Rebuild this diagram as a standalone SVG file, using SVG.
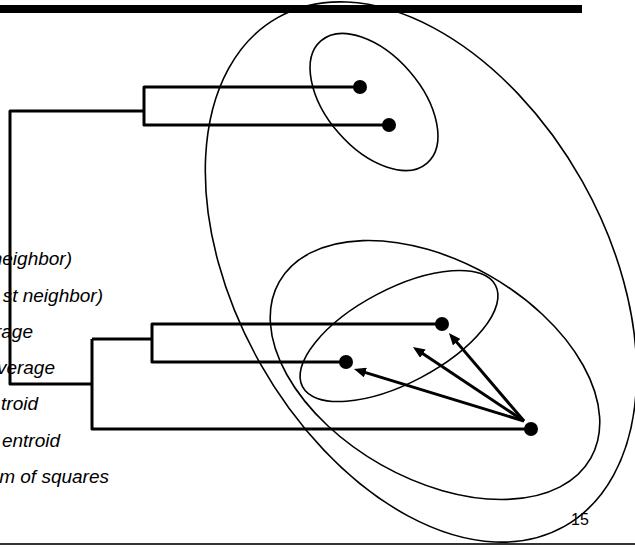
<svg xmlns="http://www.w3.org/2000/svg" width="635" height="547" viewBox="0 0 635 547">
  <style>
    .rule { fill: #000; }
    .cluster { fill: none; stroke: #000; stroke-width: 1.6; }
    .branch { fill: none; stroke: #000; stroke-width: 3; stroke-linejoin: round; stroke-linecap: butt; }
    .arrow { fill: none; stroke: #000; stroke-width: 3; marker-end: url(#head); }
    .dot { fill: #000; }
    .label { font-family: "Liberation Sans", Arial, sans-serif; font-style: italic; font-size: 19px; fill: #000; text-anchor: end; }
    .page { font-family: "Liberation Sans", Arial, sans-serif; font-size: 16px; fill: #000; }
  </style>
  <defs>
    <marker id="head" viewBox="0 0 12 10" markerWidth="12" markerHeight="10" refX="4" refY="5" orient="auto" markerUnits="userSpaceOnUse">
      <path d="M0,0 L12,5 L0,10 z" fill="#000"/>
    </marker>
  </defs>

  <rect width="635" height="547" fill="#fff"/>

  <!-- page rules -->
  <rect class="rule" x="0" y="5" width="582" height="8"/>
  <rect x="0" y="543" width="635" height="2" fill="#333"/>

  <!-- linkage method labels, cut at the left margin -->
  <g id="labels">
    <text class="label" x="72" y="265">neighbor)</text>
    <text class="label" x="103" y="302">st neighbor)</text>
    <text class="label" x="33" y="338">rage</text>
    <text class="label" x="55" y="374">verage</text>
    <text class="label" x="38" y="410">troid</text>
    <text class="label" x="60" y="447">entroid</text>
    <text class="label" x="109" y="483">m of squares</text>
  </g>

  <!-- nested clusters -->
  <g id="cluster-all">
    <ellipse class="cluster" cx="421" cy="272" rx="292" ry="185" transform="rotate(60.6 421 272)"/>
  </g>
  <g id="cluster-top">
    <ellipse class="cluster" cx="374" cy="102" rx="81" ry="47" transform="rotate(49 374 102)"/>
  </g>
  <g id="cluster-bottom">
    <ellipse class="cluster" cx="435" cy="370" rx="179" ry="109" transform="rotate(29.5 435 370)"/>
  </g>
  <g id="cluster-bottom-pair">
    <ellipse class="cluster" cx="399" cy="336" rx="109" ry="47" transform="rotate(-27.7 399 336)"/>
  </g>

  <!-- dendrogram branches and distance arrows -->
  <g id="connectors">
    <path class="branch" d="M360,87 H144 V125 H389"/>
    <path class="branch" d="M144,111 H10 V384 H92"/>
    <path class="branch" d="M92,339 V429 H531"/>
    <path class="branch" d="M92,339 H152"/>
    <path class="branch" d="M442,324 H152 V362 H346"/>
    <line class="arrow" x1="524" y1="421" x2="454.1" y2="339.1"/>
    <line class="arrow" x1="524" y1="421" x2="419.6" y2="351.5"/>
    <line class="arrow" x1="524" y1="421" x2="361.6" y2="371.4"/>
  </g>

  <!-- data points -->
  <g id="point-a"><circle class="dot" cx="360" cy="87" r="7"/></g>
  <g id="point-b"><circle class="dot" cx="389" cy="125" r="7"/></g>
  <g id="point-c"><circle class="dot" cx="442" cy="324" r="7"/></g>
  <g id="point-d"><circle class="dot" cx="346" cy="362" r="7"/></g>
  <g id="point-e"><circle class="dot" cx="531" cy="429" r="7"/></g>

  <text class="page" x="571" y="525">15</text>
</svg>
